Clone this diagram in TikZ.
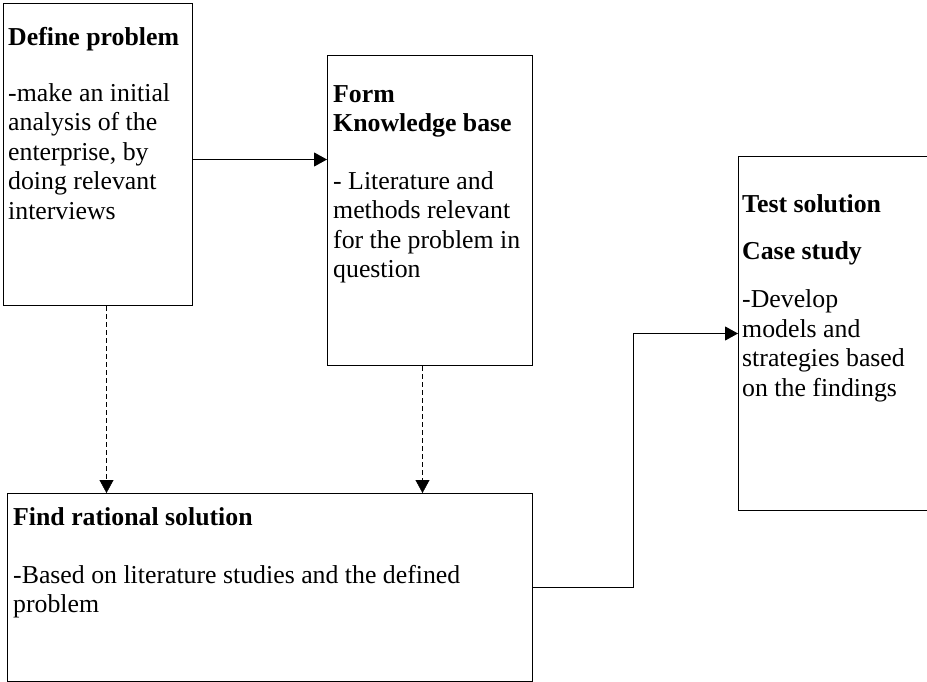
\documentclass[tikz,border=0pt]{standalone}
\usepackage{fontspec}
\setmainfont{Liberation Serif}
\usetikzlibrary{arrows.meta,positioning}

\begin{document}
\begin{tikzpicture}[x=1pt, y=-1pt, frame/.style={draw, line width=1pt, inner sep=0pt, anchor=north west}, txt/.style={anchor=north west, align=left, inner sep=0pt, font=\fontsize{25.8}{29.5}\selectfont}, >={Triangle[length=13pt,width=14pt]}]
\useasboundingbox (0,0) rectangle (927,682);
\clip (0,0) rectangle (927,682);
% boxes
\node[frame, minimum width=189pt, minimum height=302pt] (define) at (3,3) {};
\node[frame, minimum width=205pt, minimum height=310pt] (know) at (327,55) {};
\node[frame, minimum width=220pt, minimum height=354pt] (test) at (738,156) {};
\node[frame, minimum width=525pt, minimum height=188pt] (solution) at (7,493) {};
% texts
\node[txt] (definetext) at (8,27.5) {\textbf{Define problem}\\[26pt] -make an initial\\ analysis of the\\ enterprise, by\\ doing relevant\\ interviews};
\node[txt] (knowtext) at (333,85) {\textbf{Form}\\ \textbf{Knowledge base}\\[28pt] - Literature and\\ methods relevant\\ for the problem in\\ question};
\node[txt] (testtext) at (742,194.5) {\textbf{Test solution}\\[17pt] \textbf{Case study}\\[19pt] -Develop\\ models and\\ strategies based\\ on the findings};
\node[txt] (solutiontext) at (13,507.5) {\textbf{Find rational solution}\\[28pt] -Based on literature studies and the defined\\ problem};
% connectors
\draw[->, line width=1pt] ([yshift=-5pt]define.east) -- ([yshift=-5pt]define.east -| know.west);
\draw[->, dash pattern=on 5pt off 3pt] ([xshift=8.5pt]define.south) -- ([xshift=8.5pt]define.south |- solution.north);
\draw[->, dash pattern=on 5pt off 3pt] ([xshift=-7.5pt]know.south) -- ([xshift=-7.5pt]know.south |- solution.north);
\draw[->, line width=1pt] (solution.east) -- ++(100,0) |- (test.west);
\end{tikzpicture}
\end{document}
